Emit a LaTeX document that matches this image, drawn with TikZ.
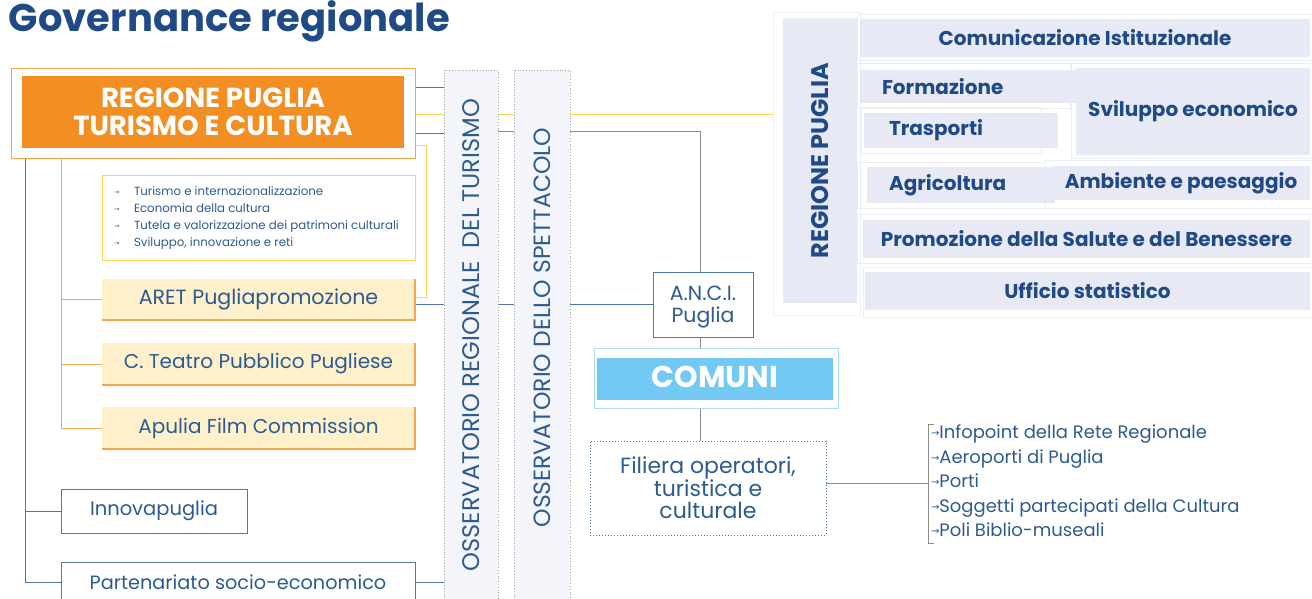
\documentclass[tikz,border=0pt]{standalone}
\usepackage{fontspec}
\setmainfont{Poppins}
\newfontfamily\arrowfont{DejaVu Sans}
\usetikzlibrary{backgrounds}
\definecolor{tblue}{HTML}{1F4A87}
\definecolor{txt}{HTML}{2B5B92}
\definecolor{lblue}{HTML}{4C76A8}
\definecolor{orng}{HTML}{F28E22}
\definecolor{lorng}{HTML}{F6A550}
\definecolor{yel}{HTML}{FFD44F}
\definecolor{cream}{HTML}{FFF0CC}
\definecolor{obs}{HTML}{F3F5FA}
\definecolor{lav}{HTML}{E7E9F5}
\definecolor{lavb}{HTML}{ECEDF5}
\definecolor{gry}{HTML}{8C8C8C}
\definecolor{cyanA}{HTML}{72C9F3}
\definecolor{cyanB}{HTML}{A9DDF6}
\newcommand\arr{\makebox[20pt][l]{\raisebox{1pt}{\arrowfont\fontsize{6.5}{6.5}\selectfont →}}}
\newcommand\sarr{\raisebox{2pt}{\arrowfont\fontsize{10}{10}\selectfont →}}
\tikzset{
  nw/.style={anchor=north west},
  bline/.style={draw=lblue, line width=1pt},
  oline/.style={draw=lorng, line width=1pt},
  yline/.style={draw=yel, line width=1pt},
  gline/.style={draw=gry, line width=1pt},
  cbox/.style={nw, fill=cream, font=\fontsize{20}{22}\selectfont},
  rbox/.style={nw, fill=lav, font=\bfseries\fontsize{20}{22}\selectfont, text=tblue},
  frame/.style={draw=lavb, line width=1pt},
  obsbox/.style={fill=obs, draw=gray!70, dotted, line width=0.8pt, rotate=90,
     minimum width=530, minimum height=54, font=\fontsize{24}{26}\selectfont},
}
\begin{document}
\begin{tikzpicture}[x=1pt,y=-1pt, every node/.style={inner sep=0pt, outer sep=0pt, text=txt}]
\useasboundingbox (0,0) rectangle (1312,598);

% title
\node[anchor=base west, font=\bfseries\fontsize{38.5}{40}\selectfont, text=tblue] (title) at (9,31) {Governance regionale};

% Regione Puglia Turismo e Cultura
\node[nw, draw=lorng, line width=1pt, minimum width=404, minimum height=90] (rpo) at (11,68) {};
\node[nw, fill=orng, minimum width=382, minimum height=72, align=center, text=white,
      font=\bfseries\fontsize{27.5}{28}\selectfont] (rp) at (22,76) {REGIONE PUGLIA\\TURISMO E CULTURA};

% list box
\node[nw, draw=yel, line width=1pt, minimum width=313, minimum height=85] (lbox) at (102,175) {};
\node[nw, align=left, font=\fontsize{11.8}{16.7}\selectfont] (ltxt) at (114,187)
  {\arr Turismo e internazionalizzazione\\
   \arr Economia della cultura\\
   \arr Tutela e valorizzazione dei patrimoni culturali\\
   \arr Sviluppo, innovazione e reti};

% cream boxes
\node[cbox, minimum width=313, minimum height=41, font=\fontsize{20.6}{22}\selectfont] (aret) at (102,279) {ARET Pugliapromozione};
\node[cbox, minimum width=313, minimum height=42] (teatro) at (102,343) {C. Teatro Pubblico Pugliese};
\node[cbox, minimum width=313, minimum height=42] (apulia) at (102,407) {Apulia Film Commission};
\foreach \b in {aret,teatro,apulia}{
  \draw[lorng, line width=1.3pt] (\b.south west) -- (\b.south east) -- (\b.north east);
}

% blue boxes
\node[nw, draw=lblue, line width=1pt, minimum width=186, minimum height=44, font=\fontsize{19.5}{20}\selectfont] (inno) at (61,489) {Innovapuglia};
\node[nw, draw=lblue, line width=1pt, minimum width=354, minimum height=40, font=\fontsize{19.3}{20}\selectfont] (part) at (61,562) {Partenariato socio-economico};

% observatories
\node[obsbox] (obs1) at (471,335) {OSSERVATORIO REGIONALE\ \ DEL TURISMO};
\node[obsbox, minimum height=56, font=\fontsize{23.5}{26}\selectfont] (obs2) at (542,335) {\hspace{15pt}OSSERVATORIO DELLO SPETTACOLO};

% ANCI, COMUNI, Filiera
\node[nw, draw=lblue, line width=1pt, minimum width=100, minimum height=65] (anci) at (653,272) {};
\node[align=center, font=\fontsize{20.5}{22}\selectfont] (ancit) at ([yshift=-3pt]anci.center) {A.N.C.I.\\Puglia};
\node[nw, draw=cyanB, line width=1pt, minimum width=244, minimum height=60] (como) at (594,348) {};
\node[nw, fill=cyanA, minimum width=236, minimum height=42] (com) at (597,358) {};
\node[text=white, font=\bfseries\fontsize{30}{30}\selectfont] (comt) at ([yshift=2pt]com.center) {COMUNI};
\node[nw, draw=lblue, dotted, line width=1pt, minimum width=236, minimum height=94, align=center,
      font=\fontsize{22}{22.5}\selectfont] (fil) at (590,441) {Filiera operatori,\\turistica e\\culturale};

% right list
\coordinate (brk) at (928,483);
\coordinate (cx) at (700,0);
\node[nw, align=left, font=\fontsize{18}{24.5}\selectfont] (lst) at (931,425)
  {\sarr Infopoint della Rete Regionale\\
   \sarr Aeroporti di Puglia\\
   \sarr Porti\\
   \sarr Soggetti partecipati della Cultura\\
   \sarr Poli Biblio-museali};

% right panel
\draw[frame] (773,12) rectangle (860,315);
\node[fill=lav, rotate=90, minimum width=285, minimum height=74, text=tblue,
      font=\bfseries\fontsize{24}{26}\selectfont] (regp) at (820,160.5) {REGIONE PUGLIA};
\draw[frame] (857,14) rectangle (1312,60);
\draw[frame] (857,63) rectangle (1070,108);
\draw[frame] (861,107) rectangle (1041,153);
\draw[frame] (1071,63) rectangle (1312,158);
\draw[frame] (857,162) rectangle (1045,208);
\draw[frame] (1045,160) rectangle (1312,208);
\draw[frame] (857,214) rectangle (1312,263);
\draw[frame] (863,267) rectangle (1312,317);
\node[rbox, minimum width=450, minimum height=38] (comu) at (860,19) {Comunicazione Istituzionale};
\node[rbox, minimum width=203, minimum height=33, inner xsep=22, text width=181, align=left] (form) at (860,70) {Formazione};
\node[rbox, minimum width=169, minimum height=35, inner xsep=25, text width=144, align=left] (trasp) at (864,113) {Trasporti};
\node[rbox, minimum width=234, minimum height=87] (svil) at (1076,68) {Sviluppo economico};
\node[rbox, minimum width=166, minimum height=36, inner xsep=22, text width=144, align=left] (agri) at (867,167) {Agricoltura};
\node[rbox, minimum width=258, minimum height=34] (amb) at (1052,166) {Ambiente e paesaggio};
\node[rbox, minimum width=447, minimum height=38] (prom) at (863,220) {Promozione della Salute e del Benessere};
\node[rbox, minimum width=445, minimum height=38] (uff) at (865,272) {Ufficio statistico};

% connectors (behind)
\begin{scope}[on background layer]
  \coordinate (bl) at (25,158);
  \coordinate (ol) at (61,158);
  \draw[bline] (bl) |- (inno.west);
  \draw[bline] (bl) |- (part.west);
  \draw[oline] (ol) |- (aret.west);
  \draw[oline] (ol) |- (teatro.west);
  \draw[oline] (ol) |- (apulia.west);
  \draw[bline] (rpo.east |- 0,87) -- (obs1.north |- 0,87);
  \draw[bline] (rpo.east |- 0,133) -- (obs1.north |- 0,133);
  \draw[yline] (rpo.east |- 0,114) -- (773,114);
  \draw[yline] (rpo.east |- 0,145) -- (426,145) -- (426,297) -- (aret.east |- 0,297);
  \draw[gline] (obs1.south |- 0,131) -| (cx |- anci.north);
  \draw[bline] (aret.east |- anci.west) -- (anci.west);
  \draw[bline] (part.east) -- (obs1.north |- part.east);
  \draw[gline] (cx |- anci.south) -- (cx |- como.north);
  \draw[gline] (cx |- como.south) -- (cx |- fil.north);
  \draw[gline] (fil.east |- brk) -- (brk);
  \draw[gline] (934,424) -| (brk) |- (934,543);
\end{scope}
\end{tikzpicture}
\end{document}
